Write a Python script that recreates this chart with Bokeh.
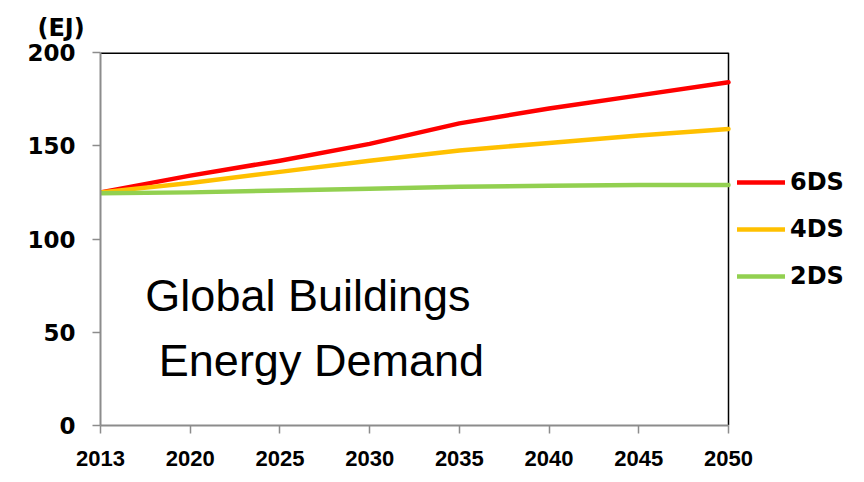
from bokeh.plotting import figure
from bokeh.models import Range1d, FixedTicker, Label, Legend, LegendItem, ColumnDataSource, Title
from bokeh.embed import file_html
from bokeh.resources import INLINE

years = ["2013", "2020", "2025", "2030", "2035", "2040", "2045", "2050"]
ds6 = [125, 134, 142, 151, 162, 170, 177, 184]
ds4 = [125, 130, 136, 142, 147.5, 151.5, 155.5, 159]
ds2 = [124.5, 125, 126, 127, 128, 128.5, 129, 129]
y_ticks = [0, 50, 100, 150, 200]
series_names = ["6DS", "4DS", "2DS"]
series_colors = ["#FF0000", "#FFC000", "#92D050"]

xs = list(range(len(years)))
x_last = len(years) - 1
y_top = y_ticks[-1]

# plot area spans 100..728 px for the data; the frame is extended to the right edge
# so the legend (drawn inside the frame) is not clipped
W, H = 864, 482
left, right_data, top, bottom = 100, 728, 52, 425
px_per_x = (right_data - left) / x_last
x_end = x_last + (W - right_data) / px_per_x

p = figure(width=W, height=H, output_backend="svg", toolbar_location=None,
           x_range=Range1d(0, x_end), y_range=Range1d(0, y_top),
           min_border_left=left, min_border_right=0, min_border_top=top,
           min_border_bottom=H - bottom)
p.xgrid.visible = False
p.ygrid.visible = False
p.outline_line_color = None

p.title = Title(text="(EJ)", align="left", offset=-63, standoff=21,
                text_font="DejaVu Sans", text_font_style="bold", text_font_size="24px",
                text_color="black")

# top and right borders of the plot area
p.segment(x0=[0, x_last], y0=[y_top, 0], x1=[x_last, x_last], y1=[y_top, y_top],
          line_color="black", line_width=[3, 1.5])

renderers = []
for name, vals, col in zip(series_names, [ds6, ds4, ds2], series_colors):
    src = ColumnDataSource(dict(x=xs, y=vals))
    r = p.line("x", "y", source=src, line_color=col, line_width=4.5, line_cap="round", line_join="round")
    renderers.append((name, r))

# axes
p.xaxis.ticker = FixedTicker(ticks=xs)
p.xaxis.bounds = (0, x_last)
p.xaxis.major_label_overrides = {i: y for i, y in enumerate(years)}
p.yaxis.ticker = FixedTicker(ticks=y_ticks)
for ax in (p.xaxis[0], p.yaxis[0]):
    ax.axis_line_color = "#8c8c8c"
    ax.axis_line_width = 2
    ax.major_tick_line_color = "#8c8c8c"
    ax.major_tick_line_width = 1.5
    ax.major_tick_in = 0
    ax.major_tick_out = 8
    ax.minor_tick_line_color = None
    ax.major_label_text_color = "black"
    ax.major_label_text_font_style = "bold"
    ax.major_label_standoff = 17
p.xaxis.major_label_text_font = "Liberation Sans"
p.xaxis.major_label_text_font_size = "22px"
p.yaxis.major_label_text_font = "DejaVu Sans"
p.yaxis.major_label_text_font_size = "23px"

# in-plot title
p.add_layout(Label(x=0.5, y=69.5, text="Global Buildings", text_font="Liberation Sans",
                   text_font_size="45px", text_baseline="alphabetic", text_color="black"))
p.add_layout(Label(x=0.65, y=34.7, text="Energy Demand", text_font="Liberation Sans",
                   text_font_size="45px", text_baseline="alphabetic", text_color="black"))

legend = Legend(items=[LegendItem(label=n, renderers=[r]) for n, r in renderers],
                location=(637, 135), orientation="vertical")
legend.background_fill_alpha = 0
legend.border_line_color = None
legend.padding = 0
legend.margin = 0
legend.spacing = 19
legend.glyph_width = 48
legend.glyph_height = 24
legend.label_height = 24
legend.label_standoff = 5
legend.label_text_font = "DejaVu Sans"
legend.label_text_font_style = "bold"
legend.label_text_font_size = "24px"
legend.label_text_color = "black"
p.add_layout(legend)

open("out.html", "w").write(file_html(p, INLINE))
